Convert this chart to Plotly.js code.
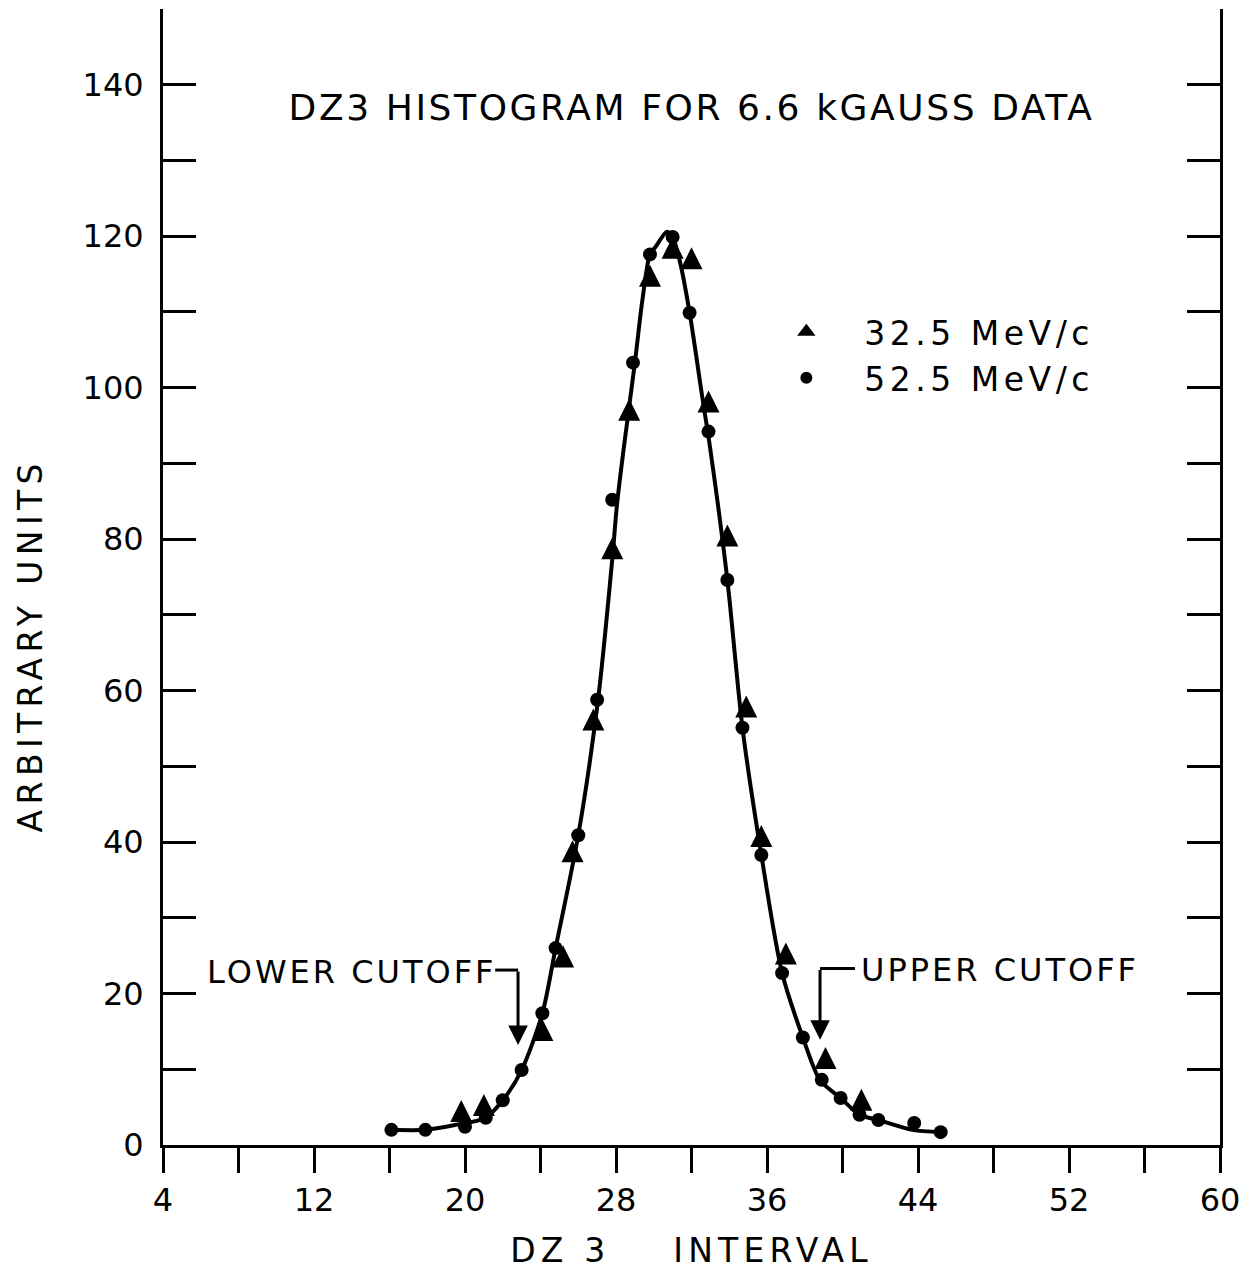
<!DOCTYPE html>
<html><head><meta charset="utf-8">
<script src="https://cdn.plot.ly/plotly-3.0.1.min.js"></script>
<style>
html,body{margin:0;padding:0;background:#fff;}
#chart{width:1239px;height:1270px;}
text.gtitle{letter-spacing:2.6px;}
text.annotation-text{letter-spacing:3px;}
g.annotation[data-index="4"] text.annotation-text{letter-spacing:5.4px;}
text.legendtext{letter-spacing:4.5px;}
text.xtitle{letter-spacing:5.2px;}
</style></head><body><div id="chart"></div>
<script>
// 32.5 MeV/c (triangles)
const triX = [19.8, 21.0, 24.1, 25.2, 25.7, 26.8, 27.8, 28.7, 29.8, 31.0, 32.0, 32.9, 33.9, 34.9, 35.7, 37.0, 39.1, 41.0];
const triY = [4.0, 4.8, 14.7, 24.4, 38.3, 55.7, 78.3, 96.6, 114.3, 118.0, 116.6, 97.7, 80.0, 57.4, 40.3, 24.8, 11.0, 5.5];
// 52.5 MeV/c (dots)
const cirX = [16.1, 17.9, 20.0, 21.1, 22.0, 23.0, 24.1, 24.8, 26.0, 27.0, 27.8, 28.9, 29.8, 31.0, 31.9, 32.9, 33.9, 34.7, 35.7, 36.8, 37.9, 38.9, 39.9, 40.9, 41.9, 43.8, 45.2];
const cirY = [2.0, 2.0, 2.4, 3.6, 5.9, 9.9, 17.4, 26.0, 40.9, 58.8, 85.2, 103.3, 117.6, 119.9, 109.9, 94.2, 74.6, 55.1, 38.3, 22.7, 14.2, 8.6, 6.2, 4.0, 3.3, 2.9, 1.7];
// hand-drawn curve through the points
const curveX = [16.1, 17.9, 19.4, 21.1, 22.0, 23.0, 24.1, 24.8, 26.0, 27.05, 27.8, 28.05, 28.4, 29.0, 29.4, 29.8, 30.1, 30.7, 31.0, 31.4, 31.9, 32.55, 33.0, 33.9, 34.7, 35.7, 36.8, 37.9, 38.8, 39.9, 40.9, 41.9, 43.7, 45.2];
const curveY = [2.0, 2.0, 2.6, 3.6, 5.9, 9.9, 17.4, 26.0, 40.9, 58.8, 77.3, 84.5, 91.8, 103.3, 111.6, 117.6, 118.6, 120.6, 119.9, 116.5, 109.9, 99.1, 91.8, 74.6, 55.1, 38.3, 22.7, 14.2, 8.6, 6.2, 4.0, 3.3, 2.0, 1.7];

const seriesNames = ['32.5 MeV/c', '52.5 MeV/c'];
const xTickVals = [4, 8, 12, 16, 20, 24, 28, 32, 36, 40, 44, 48, 52, 56, 60];
const xTickText = ['4', '', '12', '', '20', '', '28', '', '36', '', '44', '', '52', '', '60'];
const yTickVals = [0, 10, 20, 30, 40, 50, 60, 70, 80, 90, 100, 110, 120, 130, 140];
const yTickText = ['0', '', '20', '', '40', '', '60', '', '80', '', '100', '', '120', '', '140'];
const chartTitle = 'DZ3 HISTOGRAM FOR 6.6 kGAUSS DATA';
const xTitle = '\u00a0DZ\u00a03\u00a0\u00a0\u00a0\u00a0INTERVAL';
const yTitle = 'ARBITRARY UNITS';
const cutoffLabels = ['LOWER CUTOFF', 'UPPER CUTOFF'];
const cutoffX = [22.81, 38.81];
const cutoffTipY = [13.2, 13.9];

const FONT = 'DejaVu Sans, Arial, sans-serif';
const K = '#000';

const traces = [
  {x: curveX, y: curveY, mode: 'lines', line: {color: K, width: 4, shape: 'spline', smoothing: 0.8},
   showlegend: false, hoverinfo: 'skip'},
  {x: triX, y: triY, mode: 'markers', name: seriesNames[0], legendgroup: 'a', showlegend: false,
   marker: {symbol: 'arrow-down', angle: 180, standoff: 14.7, size: 22, color: K}},
  {x: cirX, y: cirY, mode: 'markers', name: seriesNames[1], legendgroup: 'b', showlegend: false,
   marker: {symbol: 'circle', size: 14, color: K}},
  // legend keys only (no data points)
  {x: [null], y: [null], mode: 'markers', name: seriesNames[0], legendgroup: 'a', showlegend: true,
   marker: {symbol: 'triangle-up', size: 16, color: K}},
  {x: [null], y: [null], mode: 'markers', name: seriesNames[1], legendgroup: 'b', showlegend: true,
   marker: {symbol: 'circle', size: 12, color: K}}
];

const layout = {
  width: 1239, height: 1270,
  margin: {l: 163, r: 19, t: 9, b: 125},
  paper_bgcolor: '#fff', plot_bgcolor: '#fff',
  font: {family: FONT, color: K, size: 32},
  title: {text: chartTitle, font: {family: FONT, size: 36, color: K},
          x: 0.5, xref: 'paper', xanchor: 'center', y: 1 - 107 / 1270, yref: 'container', yanchor: 'middle'},
  showlegend: true,
  legend: {x: 0.5538, y: 0.7404, xanchor: 'left', yanchor: 'top', bgcolor: 'rgba(0,0,0,0)',
           borderwidth: 0, itemwidth: 106, tracegroupgap: 0, font: {family: FONT, size: 33, color: K}},
  xaxis: {range: [4, 60], tickvals: xTickVals, ticktext: xTickText, ticks: 'outside', ticklen: 25,
          tickwidth: 3, tickcolor: K, showline: true, linewidth: 3, linecolor: K, mirror: false,
          showgrid: false, zeroline: false, tickfont: {size: 32}, ticklabeloverflow: 'allow',
          title: {text: xTitle, font: {size: 33}, standoff: 28}},
  xaxis2: {overlaying: 'x', side: 'top', range: [4, 60], tickvals: xTickVals, ticks: 'inside', ticklen: 30,
           tickwidth: 3, tickcolor: K, showticklabels: false, showline: true, linewidth: 3, linecolor: K,
           showgrid: false, zeroline: false},
  yaxis: {range: [0, 150], tickvals: yTickVals, ticktext: yTickText, ticks: 'inside', ticklen: 33,
          tickwidth: 3, tickcolor: K, showline: true, linewidth: 3, linecolor: K, mirror: 'ticks',
          showgrid: false, zeroline: false, tickfont: {size: 32}, ticklabelstandoff: 10},
  shapes: [
    {type: 'line', xref: 'x', yref: 'y', x0: 21.6, x1: cutoffX[0], y0: 23.1, y1: 23.1, line: {color: K, width: 3}},
    {type: 'line', xref: 'x', yref: 'y', x0: cutoffX[1], x1: 40.66, y0: 23.3, y1: 23.3, line: {color: K, width: 3}}
  ],
  annotations: [
    {x: 13.96, y: 22.85, xref: 'x', yref: 'y', text: cutoffLabels[0], showarrow: false,
     font: {size: 32, color: K}, xanchor: 'center', yanchor: 'middle'},
    {x: 48.35, y: 23.1, xref: 'x', yref: 'y', text: cutoffLabels[1], showarrow: false,
     font: {size: 32, color: K}, xanchor: 'center', yanchor: 'middle'},
    {x: cutoffX[0], y: cutoffTipY[0], ax: cutoffX[0], ay: 23.1, xref: 'x', yref: 'y', axref: 'x', ayref: 'y',
     text: '', showarrow: true, arrowhead: 2, arrowsize: 1.3, arrowwidth: 3, arrowcolor: K},
    {x: cutoffX[1], y: cutoffTipY[1], ax: cutoffX[1], ay: 23.3, xref: 'x', yref: 'y', axref: 'x', ayref: 'y',
     text: '', showarrow: true, arrowhead: 2, arrowsize: 1.3, arrowwidth: 3, arrowcolor: K},
    // y-axis title (placed as in the original, below the axis centre)
    {x: -0.1258, y: 0.4398, xref: 'paper', yref: 'paper', text: yTitle, textangle: -90, showarrow: false,
     font: {size: 33, color: K}, xanchor: 'center', yanchor: 'middle'}
  ]
};

Plotly.newPlot('chart', traces, layout, {staticPlot: true, displayModeBar: false});
</script></body></html>
